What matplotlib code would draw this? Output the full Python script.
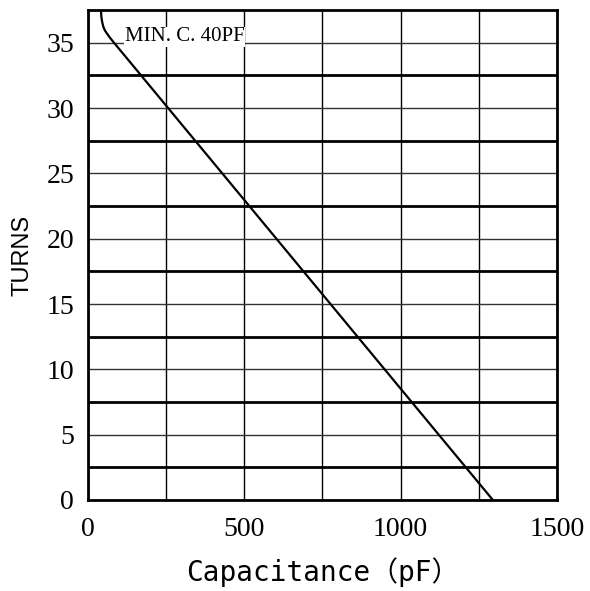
import numpy as np
import matplotlib
matplotlib.use('Agg')
import matplotlib.pyplot as plt

# curve: capacitance (pF) vs turns
cap = [41.6, 43.0, 45.5, 49.0, 54.0, 61.0, 70.0, 81.0, 1295]
turns = [37.5, 37.0, 36.6, 36.25, 35.95, 35.7, 35.4, 35.07, 0]

x_ticks = [0, 500, 1000, 1500]
x_minor = [250, 750, 1250]
y_ticks = [0, 5, 10, 15, 20, 25, 30, 35]
y_minor = [2.5, 7.5, 12.5, 17.5, 22.5, 27.5, 32.5]

fig = plt.figure(figsize=(5.9, 5.91), dpi=100)
ax = fig.add_axes([0.149, 0.154, 0.795, 0.829])

ax.plot(cap, turns, color='black', lw=1.6, zorder=3)

ax.set_xlim(0, 1500)
ax.set_ylim(0, 37.5)
ax.set_xticks(x_ticks)
ax.set_xticks(x_minor, minor=True)
ax.set_yticks(y_ticks)
ax.set_yticks(y_minor, minor=True)

ax.grid(True, which='major', axis='y', color='#333333', lw=1.0)
ax.grid(True, which='minor', axis='y', color='black', lw=2.0)
ax.grid(True, which='both', axis='x', color='black', lw=1.0)
ax.set_axisbelow(True)

for s in ax.spines.values():
    s.set_linewidth(2.0)

serif = 'Liberation Serif'
ax.tick_params(which='both', length=0)
ax.tick_params(axis='x', pad=12)
ax.tick_params(axis='y', pad=10)
for lab in ax.get_xticklabels() + ax.get_yticklabels():
    lab.set_fontfamily(serif)
    lab.set_fontsize(20)

ax.text(118, 35.1, 'MIN. C. 40PF', fontfamily=serif, fontsize=15,
        va='baseline', ha='left', zorder=4,
        bbox=dict(facecolor='white', edgecolor='none', pad=0.5))

ax.set_xlabel('Capacitance（pF）', family=['DejaVu Sans Mono', 'Noto Sans CJK SC'],
              fontsize=20, labelpad=11)
ax.set_ylabel('TURNS', family='Liberation Sans', fontsize=17, labelpad=9)

fig.savefig('out.png', dpi=100)
